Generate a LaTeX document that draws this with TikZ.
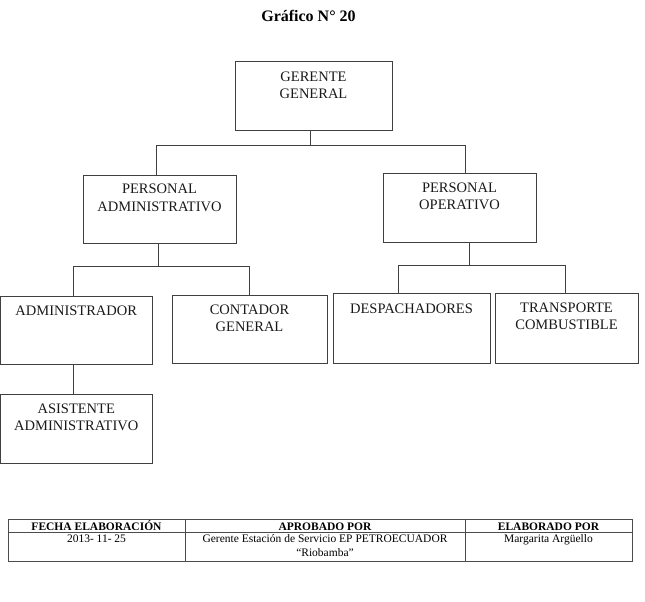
\documentclass[tikz,border=0pt]{standalone}
\usepackage{fontspec}
\setmainfont{Liberation Serif}
\usetikzlibrary{calc}
\begin{document}
\begin{tikzpicture}[x=1pt,y=-1pt,
  box/.style={draw=black!75,line width=1pt,rectangle,inner sep=0pt},
  lbl/.style={font=\fontsize{14.5}{17.5}\selectfont,align=center,anchor=north,inner sep=0pt,text=black!90},
  conn/.style={draw=black!75,line width=1pt},
  cell/.style={draw=black!70,line width=0.8pt,rectangle,inner sep=0pt},
  hd/.style={font=\bfseries\fontsize{11.5}{12}\selectfont,anchor=base,inner sep=0pt},
  bd/.style={font=\fontsize{11.5}{14}\selectfont,align=center,anchor=north,inner sep=0pt}]
\useasboundingbox (0,0) rectangle (645,602);
\node[font=\bfseries\fontsize{16}{18}\selectfont] (title) at (308.5,16) {Gráfico N° 20};
% boxes
\node[box,minimum width=157,minimum height=68] (gg) at (313.5,96) {};
\node[lbl] (tgg) at ($(gg.north)+(0,10)$) {GERENTE\\GENERAL};
\node[box,minimum width=153,minimum height=68] (pa) at (159.5,209) {};
\node[lbl] (tpa) at ($(pa.north)+(0,9.5)$) {PERSONAL\\ADMINISTRATIVO};
\node[box,minimum width=153,minimum height=69] (po) at (459.5,207.5) {};
\node[lbl] (tpo) at ($(po.north)+(0,10)$) {PERSONAL\\OPERATIVO};
\node[box,minimum width=151.5,minimum height=68] (adm) at (76.25,330) {};
\node[lbl] (tadm) at ($(adm.north)+(0,10)$) {ADMINISTRADOR};
\node[box,minimum width=155,minimum height=68] (con) at (249.5,329) {};
\node[lbl] (tcon) at ($(con.north)+(0,10)$) {CONTADOR\\GENERAL};
\node[box,minimum width=157,minimum height=70] (des) at (411.5,328) {};
\node[lbl] (tdes) at ($(des.north)+(0,11)$) {DESPACHADORES};
\node[box,minimum width=143,minimum height=70] (tra) at (566.5,328) {};
\node[lbl] (ttra) at ($(tra.north)+(0,10)$) {TRANSPORTE\\COMBUSTIBLE};
\node[box,minimum width=151.5,minimum height=69] (asi) at (76.25,428.5) {};
\node[lbl] (tasi) at ($(asi.north)+(0,10)$) {ASISTENTE\\ADMINISTRATIVO};
% connectors
\draw[conn] ([xshift=-3.5]gg.south) -- ++(0,15) coordinate (j1);
\draw[conn] (j1) -| ([xshift=-3.5]pa.north);
\draw[conn] (j1) -| ([xshift=5.5]po.north);
\draw[conn] ([xshift=-1.5]pa.south) -- ++(0,23) coordinate (j2);
\draw[conn] (j2) -| ([xshift=-3]adm.north);
\draw[conn] (j2) -| (con.north);
\draw[conn] ([xshift=10]po.south) -- ++(0,23) coordinate (j3);
\draw[conn] (j3) -| ([xshift=-13.5]des.north);
\draw[conn] (j3) -| ([xshift=-1.5]tra.north);
\draw[conn] ([xshift=-3]adm.south) -- ([xshift=-3]asi.north);
% table
\node[cell,minimum width=177,minimum height=13] (h1) at (96.5,525.5) {};
\node[cell,minimum width=280,minimum height=13] (h2) at (325,525.5) {};
\node[cell,minimum width=167,minimum height=13] (h3) at (548.5,525.5) {};
\node[cell,minimum width=177,minimum height=29] (b1) at (96.5,546.5) {};
\node[cell,minimum width=280,minimum height=29] (b2) at (325,546.5) {};
\node[cell,minimum width=167,minimum height=29] (b3) at (548.5,546.5) {};
\node[hd] (th1) at ([yshift=-4.5pt]h1.center) {FECHA ELABORACIÓN};
\node[hd] (th2) at ([yshift=-4.5pt]h2.center) {APROBADO POR};
\node[hd] (th3) at ([yshift=-4.5pt]h3.center) {ELABORADO POR};
\node[bd] (tb1) at ($(b1.north)+(0,3)$) {2013- 11- 25};
\node[bd] (tb2) at ($(b2.north)+(0,3)$) {Gerente Estación de Servicio EP PETROECUADOR\\“Riobamba”};
\node[bd] (tb3) at ($(b3.north)+(0,3)$) {Margarita Argüello};
\end{tikzpicture}
\end{document}
